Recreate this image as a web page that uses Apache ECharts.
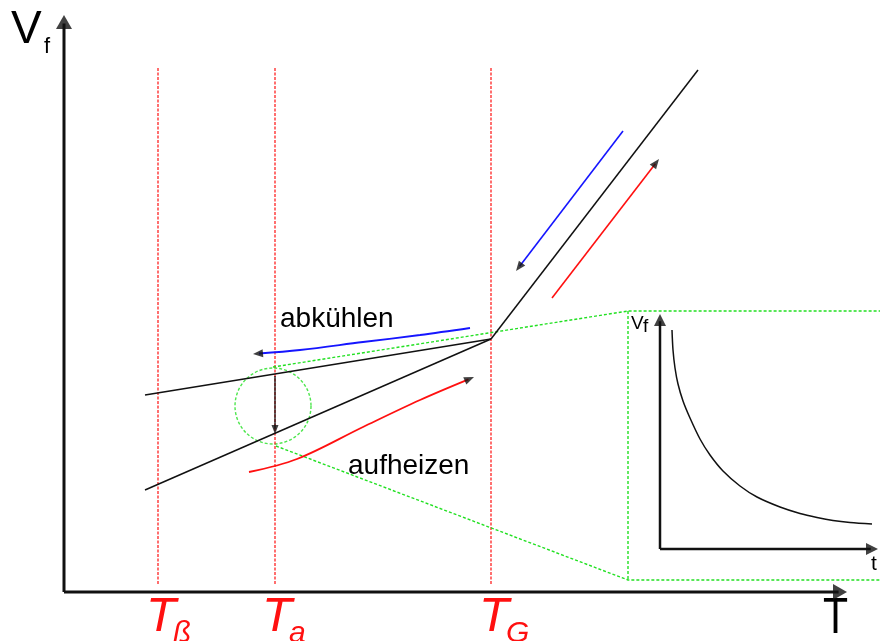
<!DOCTYPE html>
<html><head><meta charset="utf-8">
<script src="https://cdn.jsdelivr.net/npm/echarts@6/dist/echarts.min.js"></script>
<style>html,body{margin:0;padding:0;background:#fff}#c{width:880px;height:641px}</style>
</head><body><div id="c"></div>
<script>
// Temperature markers on the T axis
const markerX = [158, 275, 491];
const markerSub = ['ß', 'a', 'G'];
const markerTop = 68, markerBottom = 585;

// Main axes (with arrow tips)
const axisY = [[64, 592], [64, 15]];
const axisX = [[64, 592], [847, 592]];

// Volume-temperature branches
const coolingGlass = [[145, 395], [491, 339]];
const heatingGlass = [[145, 490], [491, 339]];
const meltBranch = [[491, 339], [698, 70]];

// Relaxation step at T_a
const relaxStep = [[275, 376], [275, 434]];

// Direction arrows
const coolArrowMelt = [[623, 131], [516, 271]];
const heatArrowMelt = [[552, 298], [659, 159]];
const coolArrowGlass = [[470, 328], [420, 335], [363, 342], [300, 350], [253, 354]];
const heatArrowGlass = [[249, 472], [297, 459], [363, 427], [420, 400], [474, 377]];

// Zoom lens and inset frame
const lensCenter = [273, 406];
const lensDiameter = 76;
const zoomUpper = [[273, 367], [628, 311], [880, 311]];
const zoomLower = [[276, 446], [628, 580], [880, 580]];
const zoomLeft = [[628, 311], [628, 580]];

// Inset: V_f against time at T_a
const insetAxisY = [[660, 549], [660, 314]];
const insetAxisX = [[660, 549], [878, 549]];
const insetCurve = [[672, 330], [673, 350], [675, 368], [678, 384], [683, 401], [690, 418],
                    [700, 439], [710, 455], [723, 471], [740, 486], [757, 497], [780, 507],
                    [800, 513.5], [817, 517.5], [833, 520.5], [850, 522.5], [872, 524]];

const RED = '#ff1010', BLUE = '#1515ff', GREEN = '#22e022', BLACK = '#111';
const FONT = '"Liberation Sans", Arial, sans-serif';

function line(data, color, width, type, smooth) {
  return {
    type: 'line', data: data, symbol: 'none', smooth: smooth || false,
    lineStyle: { color: color, width: width, type: type || 'solid' },
    silent: true, animation: false, z: 2
  };
}

// Triangle head whose tip sits on the last point of a path
function head(pts, w, h, color) {
  const a = pts[pts.length - 2], b = pts[pts.length - 1];
  const dx = b[0] - a[0], dy = b[1] - a[1], L = Math.hypot(dx, dy);
  return {
    value: [b[0] - dx / L * h / 2, b[1] - dy / L * h / 2],
    symbolRotate: Math.atan2(-dx, -dy) * 180 / Math.PI,
    symbolSize: [w, h], itemStyle: { color: color }
  };
}

// Trim a path end so the line stops under its arrow head
function trimmed(pts, h) {
  const out = pts.map(p => p.slice());
  const a = out[out.length - 2], b = out[out.length - 1];
  const dx = b[0] - a[0], dy = b[1] - a[1], L = Math.hypot(dx, dy);
  b[0] -= dx / L * h * 0.6; b[1] -= dy / L * h * 0.6;
  return out;
}

const series = [];
markerX.forEach(x => series.push(line([[x, markerTop], [x, markerBottom]], RED, 1.2, [3, 1.5])));
series.push(line(zoomUpper, GREEN, 1.4, [3, 2]));
series.push(line(zoomLower, GREEN, 1.4, [3, 2]));
series.push(line(zoomLeft, GREEN, 1.4, [3, 2]));
series.push(line(coolingGlass, BLACK, 1.5));
series.push(line(heatingGlass, BLACK, 1.5));
series.push(line(meltBranch, BLACK, 1.5));
series.push(line(trimmed(relaxStep, 9), BLACK, 1.3));
series.push(line(trimmed(coolArrowMelt, 10), BLUE, 1.6));
series.push(line(trimmed(heatArrowMelt, 10), RED, 1.6));
series.push(line(trimmed(coolArrowGlass, 10), BLUE, 1.8, 'solid', 0.35));
series.push(line(trimmed(heatArrowGlass, 10), RED, 1.8, 'solid', 0.35));
series.push(line(trimmed(axisY, 14), BLACK, 3));
series.push(line(trimmed(axisX, 14), BLACK, 3));
series.push(line(trimmed(insetAxisY, 12), BLACK, 2.5));
series.push(line(trimmed(insetAxisX, 12), BLACK, 2.5));
series.push(line(insetCurve, BLACK, 1.5, 'solid', 0.3));

// Dashed lens around the relaxation step
series.push({
  type: 'scatter', data: [lensCenter], symbol: 'circle', symbolSize: lensDiameter,
  itemStyle: { color: 'transparent', borderColor: GREEN, borderWidth: 1.4, borderType: [3, 2] },
  silent: true, animation: false, z: 1
});

// Arrow heads
series.push({
  type: 'scatter', symbol: 'triangle', silent: true, animation: false, z: 3,
  data: [
    head(axisY, 16, 14, BLACK), head(axisX, 16, 14, BLACK),
    head(insetAxisY, 12, 12, BLACK), head(insetAxisX, 12, 12, BLACK),
    head(relaxStep, 7, 9, BLACK),
    head(coolArrowMelt, 8, 10, BLACK), head(heatArrowMelt, 8, 10, BLACK),
    head(coolArrowGlass, 8, 10, BLACK), head(heatArrowGlass, 8, 10, BLACK)
  ]
});

// y is the text baseline
function txt(x, y, s, size, color, italic, extra) {
  return Object.assign({
    type: 'text', x: x, y: y + Math.round(size * 0.21), silent: true,
    style: { text: s, fill: color || '#000', font: (italic ? 'italic ' : '') + size + 'px ' + FONT,
             verticalAlign: 'bottom' }
  }, extra || {});
}

const graphics = [
  txt(11, 43, 'V', 46), txt(44, 53, 'f', 22),
  txt(823, 633, 'T', 50, '#000', false, { scaleX: 0.82 }),
  txt(631, 329, 'V', 19), txt(643, 332, 'f', 19),
  txt(871, 571, 't', 21),
  txt(280, 327, 'abkühlen', 28),
  txt(348, 474, 'aufheizen', 28)
];
const tShift = [-12, -13, -12];
markerX.forEach((x, i) => {
  graphics.push(txt(x + tShift[i], 632, 'T', 49, RED, true));
  graphics.push(txt(x + tShift[i] + 27, 643, markerSub[i], 30, RED, true));
});

const chart = echarts.init(document.getElementById('c'), null, { renderer: 'canvas' });
chart.setOption({
  animation: false,
  backgroundColor: '#fff',
  grid: { left: 0, right: 0, top: 0, bottom: 0 },
  xAxis: { type: 'value', min: 0, max: 880, show: false },
  yAxis: { type: 'value', min: 0, max: 641, inverse: true, show: false },
  series: series,
  graphic: graphics
});
</script></body></html>
